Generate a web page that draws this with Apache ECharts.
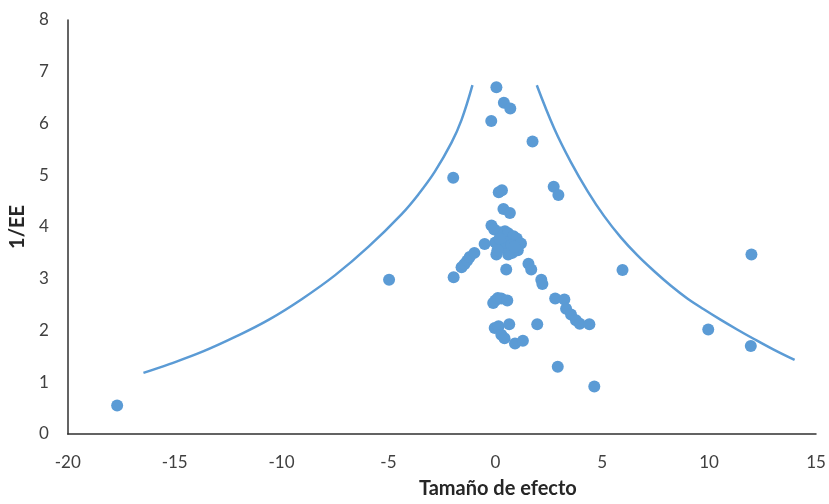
<!DOCTYPE html>
<html>
<head>
<meta charset="utf-8">
<script src="https://cdn.jsdelivr.net/npm/echarts@6/dist/echarts.min.js"></script>
<style>html,body{margin:0;padding:0;background:#fff}#c{width:829px;height:504px}</style>
</head>
<body>
<div id="c"></div>
<script>
// Study effect sizes (x) and precision 1/EE (y)
const effectX = [0.05,0.40,0.70,-0.19,1.74,-1.97,0.16,0.31,2.73,2.95,0.38,0.68,
  -0.18,-0.05,0.20,0.45,0.60,0.85,1.00,1.20,1.05,0.80,0.60,0.05,0.30,0.00,0.50,0.75,0.20,-0.50,0.10,0.90,
  -1.58,-1.45,-1.32,-1.20,-0.98,
  0.51,1.55,1.68,2.15,2.20,-1.95,-4.97,-17.69,
  -0.10,0.00,0.12,0.28,0.56,
  2.80,3.23,3.31,3.54,3.77,3.95,4.40,
  1.96,5.95,11.98,9.96,11.95,2.92,4.63,
  -0.03,0.15,0.65,0.28,0.43,0.92,1.29];
const precisionY = [6.70,6.40,6.29,6.05,5.65,4.95,4.67,4.71,4.78,4.62,4.35,4.27,
  4.03,3.95,3.90,3.92,3.88,3.82,3.78,3.68,3.55,3.50,3.47,3.47,3.60,3.70,3.70,3.65,3.78,3.67,3.55,3.62,
  3.22,3.28,3.35,3.42,3.50,
  3.18,3.29,3.18,2.98,2.90,3.03,2.98,0.55,
  2.53,2.58,2.63,2.62,2.58,
  2.62,2.60,2.42,2.31,2.20,2.13,2.12,
  2.12,3.17,3.47,2.02,1.70,1.30,0.92,
  2.05,2.08,2.12,1.92,1.85,1.75,1.80];

// Funnel limits
const leftCurveX = [-16.46,-15.25,-13.70,-12.15,-10.59,-9.04,-7.49,-5.93,-4.38,-3.60,-2.83,-2.05,-1.58,-1.07];
const leftCurveY = [1.18,1.35,1.59,1.88,2.21,2.61,3.07,3.62,4.25,4.63,5.07,5.63,6.07,6.74];
const rightCurveX = [1.94,2.76,3.54,4.32,5.09,5.87,6.65,7.42,8.20,8.98,9.75,10.53,11.31,12.08,13.02,14.00];
const rightCurveY = [6.74,5.90,5.25,4.69,4.21,3.80,3.45,3.15,2.87,2.62,2.41,2.21,2.02,1.84,1.63,1.43];

const xAxisTitle = 'Tamaño de efecto';
const yAxisTitle = '1/EE';

const zip = (a, b) => a.map((v, i) => [v, b[i]]);
const blue = '#5B9BD5';
const font = 'Lato, "Liberation Sans", sans-serif';

const chart = echarts.init(document.getElementById('c'), null, {renderer: 'canvas'});
chart.setOption({
  animation: false,
  backgroundColor: '#fff',
  grid: {left: 65, right: 13, top: 20, bottom: 61, containLabel: false},
  xAxis: {
    type: 'value', min: -20, max: 15, interval: 5,
    name: xAxisTitle, nameLocation: 'middle', nameGap: 45,
    nameTextStyle: {fontFamily: font, fontWeight: 'bold', fontSize: 20, color: '#262626',
                    padding: [0, 0, 0, 112]},
    axisLine: {show: true, onZero: false, lineStyle: {color: '#303030', width: 1.5}},
    axisTick: {show: false},
    splitLine: {show: false},
    axisLabel: {margin: 20, fontFamily: font, fontSize: 17, color: '#404040'}
  },
  yAxis: {
    type: 'value', min: 0, max: 8, interval: 1,
    name: yAxisTitle, nameLocation: 'middle', nameGap: 34, nameRotate: 90,
    nameTextStyle: {fontFamily: font, fontWeight: 'bold', fontSize: 20, color: '#262626'},
    axisLine: {show: true, onZero: false, lineStyle: {color: '#303030', width: 1.5}},
    axisTick: {show: false},
    splitLine: {show: false},
    axisLabel: {margin: 19, fontFamily: font, fontSize: 17, color: '#404040'}
  },
  series: [
    {type: 'line', data: zip(leftCurveX, leftCurveY), smooth: 0.4, showSymbol: false,
     lineStyle: {color: blue, width: 2.5}, z: 1},
    {type: 'line', data: zip(rightCurveX, rightCurveY), smooth: 0.4, showSymbol: false,
     lineStyle: {color: blue, width: 2.5}, z: 1},
    {type: 'scatter', data: zip(effectX, precisionY), symbolSize: 12,
     itemStyle: {color: blue, opacity: 1}, z: 2}
  ]
});
</script>
</body>
</html>
